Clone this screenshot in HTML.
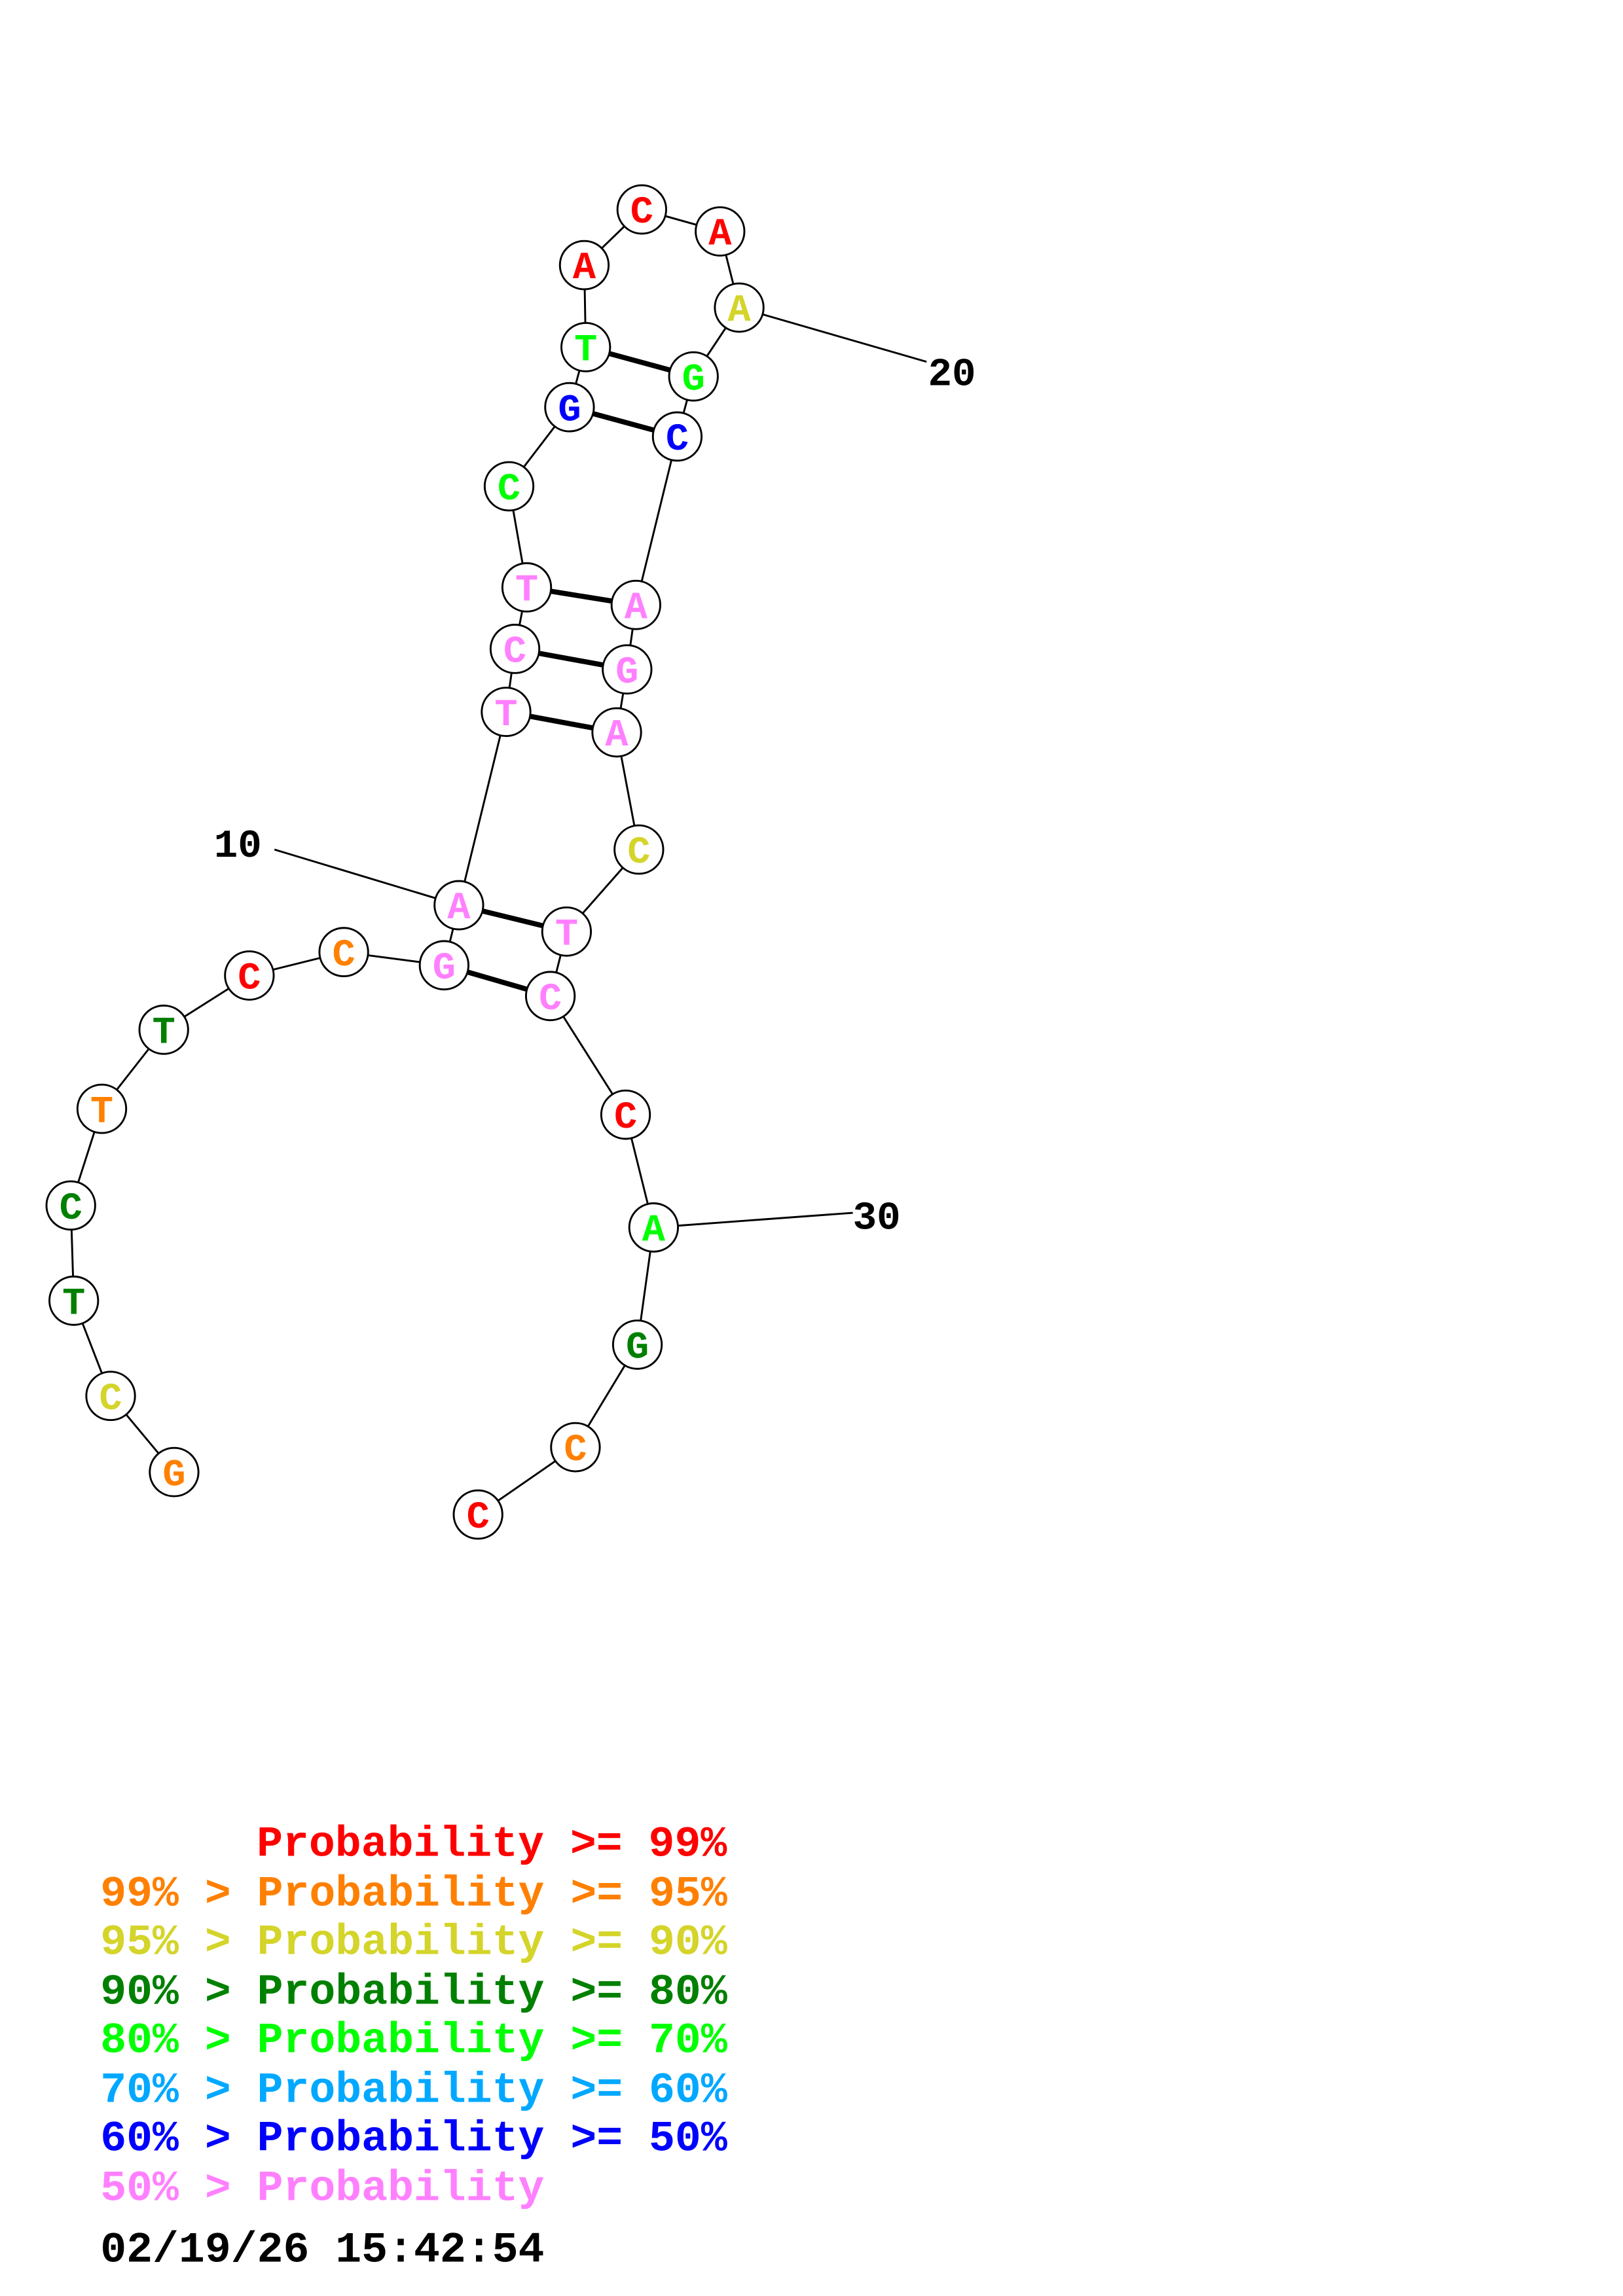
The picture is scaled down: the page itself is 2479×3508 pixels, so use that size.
<!DOCTYPE html>
<html><head><meta charset="utf-8"><style>html,body{margin:0;padding:0;background:#fff}svg{display:block}</style></head><body>
<svg width="2479" height="3508" viewBox="0 0 1100 1567.5" preserveAspectRatio="none" xmlns="http://www.w3.org/2000/svg">
<rect width="1100" height="1568" fill="#fff"/>
<g stroke="#000" stroke-width="1.3" fill="none">
<polyline points="118,1005 75,953 50,888 48,823 69,757 111,703 169,666 233,650 301,659 311,618 343,486 349,443 357,401 345,332 386,278 397,237 396,181 435,143 488,158 501,210 470,257 459,298 431,413 425,457 418,500 433,580 384,636 373,680 424,761 443,838 432,918 390,988 324,1034"/>
<line x1="186" y1="580" x2="311" y2="618"/>
<line x1="501" y1="210" x2="628" y2="247"/>
<line x1="443" y1="838" x2="578" y2="828"/>
</g>
<g stroke="#000" stroke-width="3.5">
<line x1="397" y1="237" x2="470" y2="257"/>
<line x1="386" y1="278" x2="459" y2="298"/>
<line x1="357" y1="401" x2="431" y2="413"/>
<line x1="349" y1="443" x2="425" y2="457"/>
<line x1="343" y1="486" x2="418" y2="500"/>
<line x1="311" y1="618" x2="384" y2="636"/>
<line x1="301" y1="659" x2="373" y2="680"/>
</g>
<g font-family="'Liberation Mono',monospace" font-weight="bold" font-size="26" text-anchor="middle">
<g stroke="#000" stroke-width="1.3" fill="#fff">
<circle cx="118" cy="1005" r="16.5"/><circle cx="75" cy="953" r="16.5"/><circle cx="50" cy="888" r="16.5"/><circle cx="48" cy="823" r="16.5"/><circle cx="69" cy="757" r="16.5"/><circle cx="111" cy="703" r="16.5"/><circle cx="169" cy="666" r="16.5"/><circle cx="233" cy="650" r="16.5"/><circle cx="301" cy="659" r="16.5"/><circle cx="311" cy="618" r="16.5"/><circle cx="343" cy="486" r="16.5"/><circle cx="349" cy="443" r="16.5"/><circle cx="357" cy="401" r="16.5"/><circle cx="345" cy="332" r="16.5"/><circle cx="386" cy="278" r="16.5"/><circle cx="397" cy="237" r="16.5"/><circle cx="396" cy="181" r="16.5"/><circle cx="435" cy="143" r="16.5"/><circle cx="488" cy="158" r="16.5"/><circle cx="501" cy="210" r="16.5"/><circle cx="470" cy="257" r="16.5"/><circle cx="459" cy="298" r="16.5"/><circle cx="431" cy="413" r="16.5"/><circle cx="425" cy="457" r="16.5"/><circle cx="418" cy="500" r="16.5"/><circle cx="433" cy="580" r="16.5"/><circle cx="384" cy="636" r="16.5"/><circle cx="373" cy="680" r="16.5"/><circle cx="424" cy="761" r="16.5"/><circle cx="443" cy="838" r="16.5"/><circle cx="432" cy="918" r="16.5"/><circle cx="390" cy="988" r="16.5"/><circle cx="324" cy="1034" r="16.5"/>
</g>
<text x="118" y="1014" fill="#ff8000">G</text>
<text x="75" y="962" fill="#d4d42a">C</text>
<text x="50" y="897" fill="#008000">T</text>
<text x="48" y="832" fill="#008000">C</text>
<text x="69" y="766" fill="#ff8000">T</text>
<text x="111" y="712" fill="#008000">T</text>
<text x="169" y="675" fill="#ff0000">C</text>
<text x="233" y="659" fill="#ff8000">C</text>
<text x="301" y="668" fill="#ff80ff">G</text>
<text x="311" y="627" fill="#ff80ff">A</text>
<text x="343" y="495" fill="#ff80ff">T</text>
<text x="349" y="452" fill="#ff80ff">C</text>
<text x="357" y="410" fill="#ff80ff">T</text>
<text x="345" y="341" fill="#00ff00">C</text>
<text x="386" y="287" fill="#0000ff">G</text>
<text x="397" y="246" fill="#00ff00">T</text>
<text x="396" y="190" fill="#ff0000">A</text>
<text x="435" y="152" fill="#ff0000">C</text>
<text x="488" y="167" fill="#ff0000">A</text>
<text x="501" y="219" fill="#d4d42a">A</text>
<text x="470" y="266" fill="#00ff00">G</text>
<text x="459" y="307" fill="#0000ff">C</text>
<text x="431" y="422" fill="#ff80ff">A</text>
<text x="425" y="466" fill="#ff80ff">G</text>
<text x="418" y="509" fill="#ff80ff">A</text>
<text x="433" y="589" fill="#d4d42a">C</text>
<text x="384" y="645" fill="#ff80ff">T</text>
<text x="373" y="689" fill="#ff80ff">C</text>
<text x="424" y="770" fill="#ff0000">C</text>
<text x="443" y="847" fill="#00ff00">A</text>
<text x="432" y="927" fill="#008000">G</text>
<text x="390" y="997" fill="#ff8000">C</text>
<text x="324" y="1043" fill="#ff0000">C</text>
</g>
<g font-family="'Liberation Mono',monospace" font-weight="bold" font-size="27" fill="#000">
<text x="145" y="585">10</text>
<text x="629" y="263">20</text>
<text x="578" y="839">30</text>
</g>
<g font-family="'Liberation Mono',monospace" font-weight="bold" font-size="29.5">
<text x="174" y="1267" fill="#ff0000">Probability &gt;= 99%</text>
<text x="68" y="1301" fill="#ff8000">99% &gt; Probability &gt;= 95%</text>
<text x="68" y="1334" fill="#d4d42a">95% &gt; Probability &gt;= 90%</text>
<text x="68" y="1368" fill="#008000">90% &gt; Probability &gt;= 80%</text>
<text x="68" y="1401" fill="#00ff00">80% &gt; Probability &gt;= 70%</text>
<text x="68" y="1435" fill="#00a8ff">70% &gt; Probability &gt;= 60%</text>
<text x="68" y="1468" fill="#0000ff">60% &gt; Probability &gt;= 50%</text>
<text x="68" y="1502" fill="#ff80ff">50% &gt; Probability</text>
<text x="68" y="1544" fill="#000">02/19/26 15:42:54</text>
</g>
</svg>
</body></html>
